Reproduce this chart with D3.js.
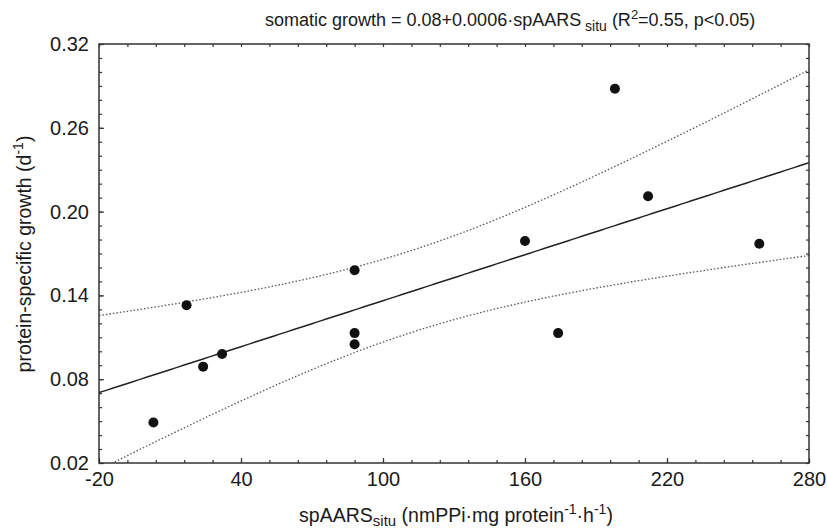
<!DOCTYPE html>
<html lang="en">
<head>
  <meta charset="UTF-8">
  <title>Somatic growth vs spAARS</title>
  <script src="https://d3js.org/d3.v7.min.js"></script>
  <style>
    body { margin: 0; background: #fff; }
    text { font-family: "Liberation Sans", Arial, sans-serif; fill: #1a1a1a; }
  </style>
</head>
<body>
  <svg id="chart" width="827" height="531"></svg>
  <script>
    // spAARS situ (x) and protein-specific growth (y)
    const spAARS = [3, 17, 24, 32, 88, 88, 88, 198, 212, 160, 259, 174];
    const growth = [0.049, 0.133, 0.089, 0.098, 0.158, 0.113, 0.105, 0.288, 0.211, 0.179, 0.177, 0.113];

    const xMajor = [-20, 40, 100, 160, 220, 280];
    const yMajor = [0.02, 0.08, 0.14, 0.20, 0.26, 0.32];
    const T_CRIT = 2.228; // t(0.975, df = 10)

    const svg = d3.select("#chart");
    const margin = {top: 44, right: 18, bottom: 68, left: 99};
    const width = 827 - margin.left - margin.right;
    const height = 531 - margin.top - margin.bottom;

    const g = svg.append("g").attr("transform", `translate(${margin.left},${margin.top})`);

    const x = d3.scaleLinear().domain([-20, 280]).range([0, width]);
    const y = d3.scaleLinear().domain([0.02, 0.32]).range([height, 0]);

    // least squares fit + 95% confidence band
    const n = spAARS.length;
    const mx = d3.mean(spAARS), my = d3.mean(growth);
    const sxx = d3.sum(spAARS, v => (v - mx) ** 2);
    const sxy = d3.sum(spAARS, (v, i) => (v - mx) * (growth[i] - my));
    const slope = sxy / sxx, icpt = my - slope * mx;
    const s = Math.sqrt(d3.sum(spAARS, (v, i) => (growth[i] - icpt - slope * v) ** 2) / (n - 2));
    const band = d3.range(-20, 280.1, 2).map(v => {
      const fit = icpt + slope * v;
      const half = T_CRIT * s * Math.sqrt(1 / n + (v - mx) ** 2 / sxx);
      return {x: v, fit: fit, lo: fit - half, hi: fit + half};
    });

    g.append("clipPath").attr("id", "plotClip")
      .append("rect").attr("width", width).attr("height", height);

    const plot = g.append("g").attr("clip-path", "url(#plotClip)");

    ["lo", "hi"].forEach(k => {
      plot.append("path")
        .datum(band)
        .attr("fill", "none")
        .attr("stroke", "#555")
        .attr("stroke-width", 1.3)
        .attr("stroke-dasharray", "1.5,2")
        .attr("d", d3.line().x(d => x(d.x)).y(d => y(d[k])));
    });

    plot.append("path")
      .datum(band)
      .attr("fill", "none")
      .attr("stroke", "#222")
      .attr("stroke-width", 1.5)
      .attr("d", d3.line().x(d => x(d.x)).y(d => y(d.fit)));

    g.selectAll(".pt")
      .data(spAARS)
      .enter()
      .append("circle")
      .attr("class", "pt")
      .attr("cx", d => x(d))
      .attr("cy", (d, i) => y(growth[i]))
      .attr("r", 5)
      .attr("fill", "#111");

    // axes: major + minor ticks pointing inward on all four sides
    const xMinor = d3.range(-20, 280.1, 12);
    const yMinor = d3.range(0.02, 0.3201, 0.01);

    function styleAxis(sel) {
      sel.select(".domain").remove();
      sel.selectAll("line").attr("stroke", "#333").attr("stroke-width", 1.2);
      sel.selectAll("text").attr("font-size", 20).attr("fill", "#1a1a1a")
        .style("font-family", "'Liberation Sans', Arial, sans-serif");
    }

    g.append("g").attr("transform", `translate(0,${height})`)
      .call(d3.axisBottom(x).tickValues(xMajor).tickSize(-5).tickPadding(9).tickFormat(d => String(d)))
      .call(styleAxis);
    g.append("g").attr("transform", `translate(0,${height})`)
      .call(d3.axisBottom(x).tickValues(xMinor).tickSize(-3).tickFormat(""))
      .call(styleAxis);
    g.append("g")
      .call(d3.axisTop(x).tickValues(xMinor).tickSize(-3).tickFormat(""))
      .call(styleAxis);

    g.append("g")
      .call(d3.axisLeft(y).tickValues(yMajor).tickSize(-5).tickPadding(10).tickFormat(d3.format(".2f")))
      .call(styleAxis);
    g.append("g")
      .call(d3.axisLeft(y).tickValues(yMinor).tickSize(-3).tickFormat(""))
      .call(styleAxis);
    g.append("g").attr("transform", `translate(${width},0)`)
      .call(d3.axisRight(y).tickValues(yMinor).tickSize(-3).tickFormat(""))
      .call(styleAxis);

    g.append("rect")
      .attr("width", width).attr("height", height)
      .attr("fill", "none").attr("stroke", "#333").attr("stroke-width", 1.5);

    // title
    const title = svg.append("text").attr("x", 265).attr("y", 26).attr("font-size", 18);
    title.append("tspan").text("somatic growth = 0.08+0.0006\u00b7spAARS");
    title.append("tspan").attr("dy", 5).attr("font-size", 14).text(" situ");
    title.append("tspan").attr("dy", -5).text(" (R");
    title.append("tspan").attr("dy", -7).attr("font-size", 13).text("2");
    title.append("tspan").attr("dy", 7).text("=0.55, p<0.05)");

    // x axis title
    const xt = svg.append("text").attr("x", 456).attr("y", 522)
      .attr("text-anchor", "middle").attr("font-size", 19.5);
    xt.append("tspan").text("spAARS");
    xt.append("tspan").attr("dy", 4).attr("font-size", 15).text("situ");
    xt.append("tspan").attr("dy", -4).text(" (nmPPi\u00b7mg protein");
    xt.append("tspan").attr("dy", -8).attr("font-size", 14).text("-1");
    xt.append("tspan").attr("dy", 8).text("\u00b7h");
    xt.append("tspan").attr("dy", -8).attr("font-size", 14).text("-1");
    xt.append("tspan").attr("dy", 8).text(")");

    // y axis title
    const yt = svg.append("text")
      .attr("transform", "translate(31,254) rotate(-90)")
      .attr("text-anchor", "middle").attr("font-size", 19.5);
    yt.append("tspan").text("protein-specific growth (d");
    yt.append("tspan").attr("dy", -8).attr("font-size", 14).text("-1");
    yt.append("tspan").attr("dy", 8).text(")");
  </script>
</body>
</html>
